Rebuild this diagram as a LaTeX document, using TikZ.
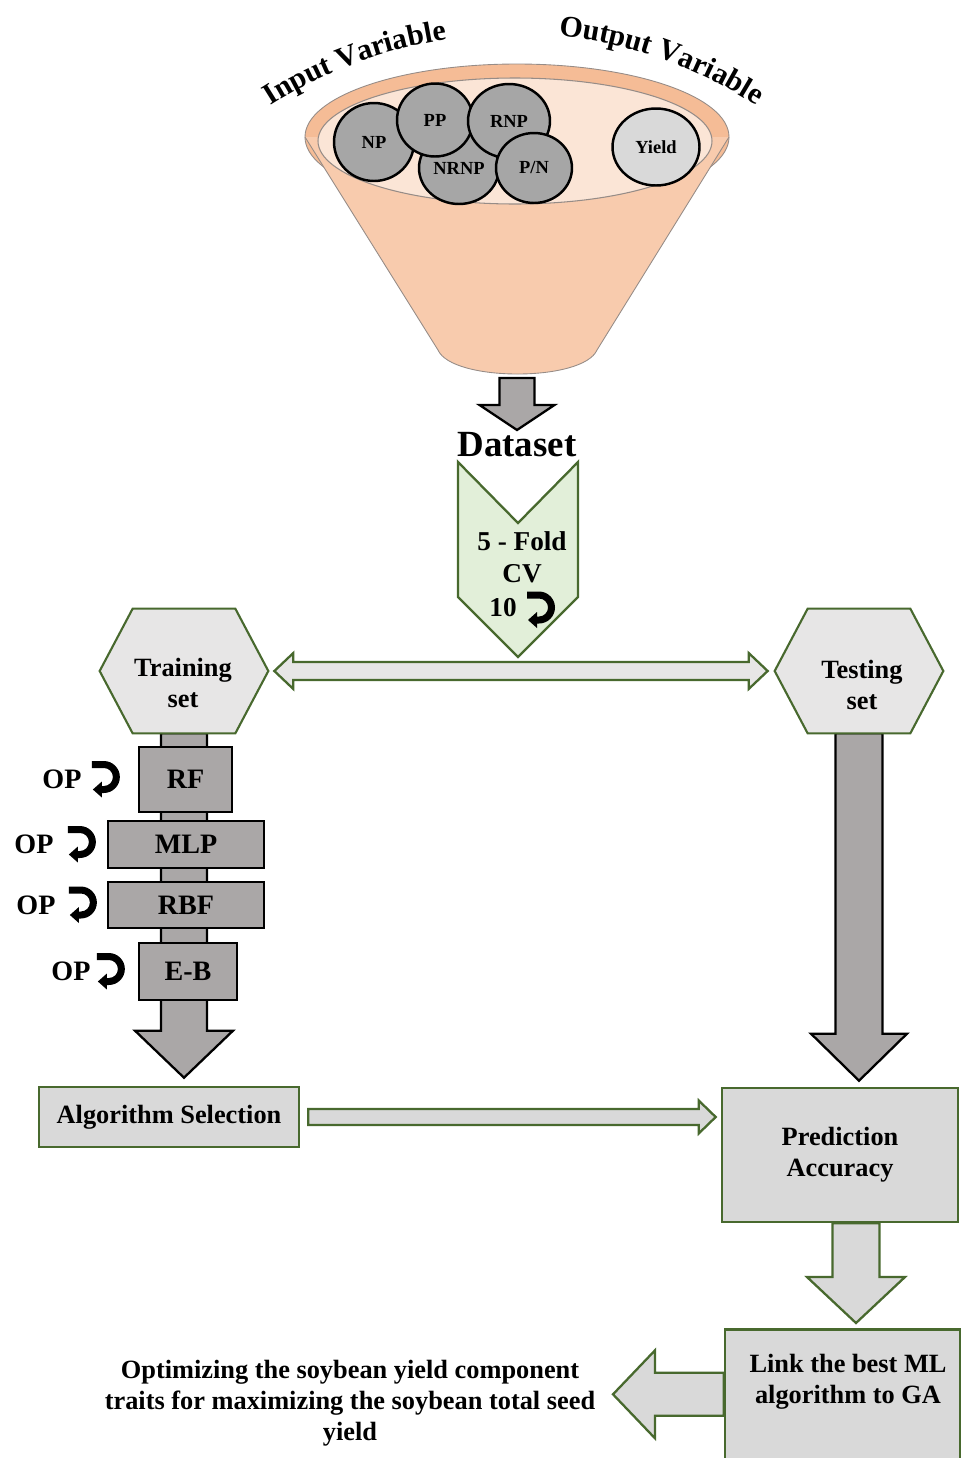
\documentclass[tikz,border=0pt]{standalone}
\usepackage{fontspec}
\setmainfont{Liberation Serif}
\usepackage{tikz}
\usetikzlibrary{shapes.geometric,positioning,calc,decorations.text}
\definecolor{leafgreen}{RGB}{72,105,46}
\definecolor{mintfill}{RGB}{226,239,217}
\definecolor{hexfill}{RGB}{231,230,230}
\definecolor{boxgray}{RGB}{170,167,167}
\definecolor{softgray}{RGB}{217,217,217}
\definecolor{peach}{RGB}{248,203,173}
\definecolor{peachrim}{RGB}{245,188,150}
\definecolor{peachlight}{RGB}{251,229,214}
\definecolor{funnelline}{RGB}{150,140,135}
\definecolor{ballgray}{RGB}{166,166,166}
\newcommand{\arcfont}{\bfseries\fontsize{17}{17}\selectfont}
% block arrows: vertical ones point down, horizontal ones to the side given by the head length sign
\newcommand{\vblock}[6]{%
  \draw[#1] let \p1=(#2), \p2=(#3) in
    ({\x1-#4},\y1) -- ({\x1+#4},\y1) -- ({\x1+#4},{\y2+#6}) -- ({\x1+#5},{\y2+#6})
    -- (\x1,\y2) -- ({\x1-#5},{\y2+#6}) -- ({\x1-#4},{\y2+#6}) -- cycle;}
\newcommand{\hblock}[6]{%
  \draw[#1] let \p1=(#2), \p2=(#3) in
    (\x1,{\y1+#4}) -- ({\x2-(#6)},{\y1+#4}) -- ({\x2-(#6)},{\y1+#5})
    -- (\x2,\y1) -- ({\x2-(#6)},{\y1-#5}) -- ({\x2-(#6)},{\y1-#4}) -- (\x1,{\y1-#4}) -- cycle;}

\begin{document}
\begin{tikzpicture}[
    x=0.02cm, y=-0.02cm,
    txt/.style={font=\bfseries\fontsize{15}{17.6}\selectfont, align=center, inner sep=0pt},
    ball/.style={ellipse, draw=black, line width=1.4pt, fill=ballgray, inner sep=0pt, font=\bfseries\fontsize{10.5}{12}\selectfont},
    algbox/.style={draw=black, line width=1.3pt, fill=boxgray, inner sep=0pt, font=\bfseries\fontsize{16}{18}\selectfont},
    oplbl/.style={inner sep=0pt, font=\bfseries\fontsize{16}{18}\selectfont},
    greenbox/.style={draw=leafgreen, line width=1.5pt, fill=softgray, inner sep=0pt, align=center, font=\bfseries\fontsize{15}{17.6}\selectfont},
    hexa/.style={draw=leafgreen, line width=1.2pt, fill=hexfill},
    garrow/.style={draw=black, line width=1.3pt, fill=boxgray},
    lgarrow/.style={draw=leafgreen, line width=1.3pt, fill=softgray},
    loopy/.pic={
      \fill[black] (-14,-18.5) -- (-2,-18.5) .. controls (6.8,-18.5) and (14,-11.3) .. (14,-2.5)
        .. controls (14,6.3) and (6.8,13.5) .. (-2,13.5) -- (-4,13.5) -- (-4,18) -- (-13,10) -- (-4,2)
        -- (-4,6.5) -- (-2,6.5) .. controls (3,6.5) and (7,2.5) .. (7,-2.5)
        .. controls (7,-7.5) and (3,-11.5) .. (-2,-11.5) -- (-14,-11.5) -- cycle;
    }
]
\useasboundingbox (0,0) rectangle (961,1458);

% Funnel
\draw[funnelline, fill=peachrim, line width=0.5pt] (517,137) ellipse [x radius=212, y radius=73];
\fill[peach] (305,137) -- (438,350) .. controls (452,382) and (583,382) .. (597,350) -- (729,137) -- cycle;
\draw[funnelline, line width=0.5pt] (305,137) -- (438,350) .. controls (452,382) and (583,382) .. (597,350) -- (729,137);
\draw[funnelline, fill=peachlight, line width=0.6pt] (515,141) ellipse [x radius=197, y radius=63];

% Variables
\node[ball, minimum width=1.6cm, minimum height=1.56cm] (np) at (374,142) {NP};
\node[ball, minimum width=1.6cm, minimum height=1.44cm] (nrnp) at (459,168) {NRNP};
\node[ball, minimum width=1.52cm, minimum height=1.46cm] (pp) at (435,120) {PP};
\node[ball, minimum width=1.64cm, minimum height=1.48cm] (rnp) at (509,121) {RNP};
\node[ball, minimum width=1.52cm, minimum height=1.4cm] (pn) at (534,168) {P/N};
\node[ball, fill=softgray, minimum width=1.74cm, minimum height=1.54cm] (yield) at (656,147) {Yield};

\path[decorate, decoration={text along path, text align=center, text={|\arcfont|Input Variable}}]
  ($(512,483)+(-124.5:448)$) arc[start angle=-124.5, end angle=-96.5, radius=448];
\path[decorate, decoration={text along path, text align=center, text={|\arcfont|Output Variable}}]
  ($(512,481)+(-85.5:448)$) arc[start angle=-85.5, end angle=-55.5, radius=448];

% Dataset
\coordinate (fbot) at (517,378);
\coordinate (dtip) at (517,430);
\vblock{garrow}{fbot}{dtip}{0.35cm}{0.75cm}{0.5cm}
\node[txt, font=\bfseries\fontsize{21}{24}\selectfont] (dataset) at (517,445) {Dataset};

% Cross validation
\coordinate (cv) at (518,462);
\draw[leafgreen, fill=mintfill, line width=1.3pt] (cv) ++(-60,0) -- ++(60,61) -- ++(60,-61) -- ++(0,135) -- ++(-60,60) -- ++(-60,-60) -- cycle;
\node[txt, font=\bfseries\fontsize{15.5}{18}\selectfont] (cvlbl) at (522,557) {5 - Fold\\CV};
\node[txt, font=\bfseries\fontsize{15.5}{18}\selectfont] (reps) at (503,608) {10};
\pic at (541,610) {loopy};

% Sets and result boxes
\node[minimum width=3.36cm, minimum height=2.48cm, inner sep=0pt] (trainset) at (184,671) {};
\node[minimum width=3.36cm, minimum height=2.48cm, inner sep=0pt] (testset) at (859,671) {};
\node[greenbox, minimum width=5.2cm, minimum height=1.2cm] (algsel) at (169,1117) {Algorithm Selection};
\node[greenbox, minimum width=4.72cm, minimum height=2.68cm] (predacc) at (840,1155) {Prediction\\Accuracy};
\node[greenbox, minimum width=4.7cm, minimum height=3cm, anchor=north] (link) at (842.5,1328) {};
\node[txt] (linktxt) at (848,1382) {Link the best ML\\algorithm to GA};

\vblock{garrow}{trainset.south}{[yshift=0.16cm]algsel.north}{0.46cm}{0.98cm}{0.94cm}
\vblock{garrow}{testset.south}{[yshift=0.12cm]predacc.north}{0.47cm}{0.96cm}{0.94cm}

\draw[hexa] (trainset.west) -- ([xshift=0.66cm]trainset.north west) -- ([xshift=-0.66cm]trainset.north east) -- (trainset.east)
  -- ([xshift=-0.66cm]trainset.south east) -- ([xshift=0.66cm]trainset.south west) -- cycle;
\draw[hexa] (testset.west) -- ([xshift=0.66cm]testset.north west) -- ([xshift=-0.66cm]testset.north east) -- (testset.east)
  -- ([xshift=-0.66cm]testset.south east) -- ([xshift=0.66cm]testset.south west) -- cycle;
\node[txt] (traintxt) at (183,683) {Training\\set};
\node[txt] (testtxt) at (862,685) {Testing\\set};

% Split arrow
\draw[lgarrow, fill=hexfill] let \p1=(trainset.east), \p2=(testset.west) in
  ({\x1+0.12cm},\y1) -- ({\x1+0.5cm},{\y1+0.36cm}) -- ({\x1+0.5cm},{\y1+0.18cm}) -- ({\x2-0.52cm},{\y1+0.18cm})
  -- ({\x2-0.52cm},{\y1+0.36cm}) -- ({\x2-0.14cm},\y1) -- ({\x2-0.52cm},{\y1-0.36cm}) -- ({\x2-0.52cm},{\y1-0.18cm})
  -- ({\x1+0.5cm},{\y1-0.18cm}) -- ({\x1+0.5cm},{\y1-0.36cm}) -- cycle;

% Algorithms
\node[algbox, minimum width=1.86cm, minimum height=1.3cm] (rf) at (185.5,779.5) {RF};
\node[algbox, minimum width=3.12cm, minimum height=0.94cm] (mlp) at (186,844.5) {MLP};
\node[algbox, minimum width=3.12cm, minimum height=0.92cm] (rbf) at (186,905) {RBF};
\node[algbox, minimum width=1.96cm, minimum height=1.14cm] (eb) at (188,971.5) {E-B};

\node[oplbl, left=1.12cm of rf] (op1) {OP};
\pic at ([xshift=-0.64cm]rf.west) {loopy};
\node[oplbl, left=1.06cm of mlp] (op2) {OP};
\pic at ([xshift=-0.5cm]mlp.west) {loopy};
\node[oplbl, left=1.02cm of rbf] (op3) {OP};
\pic at ([xshift=-0.48cm]rbf.west) {loopy};
\node[oplbl, left=0.94cm of eb] (op4) {OP};
\pic at ([xshift=-0.54cm]eb.west) {loopy};

% Selection to accuracy to GA
\hblock{lgarrow}{[xshift=0.16cm]algsel.east}{[xshift=-0.1cm]predacc.west}{0.16cm}{0.33cm}{0.34cm}
\vblock{lgarrow}{[xshift=0.32cm]predacc.south}{[yshift=0.1cm]link.north}{0.47cm}{0.98cm}{0.92cm}

\node[txt] (goal) at (350,1403) {Optimizing the soybean yield component\\traits for maximizing the soybean total seed\\yield};
\coordinate (gtip) at (613,1393);
\hblock{lgarrow}{[yshift=0.2cm]link.west}{gtip}{0.43cm}{0.88cm}{-0.84cm}

\end{tikzpicture}
\end{document}
